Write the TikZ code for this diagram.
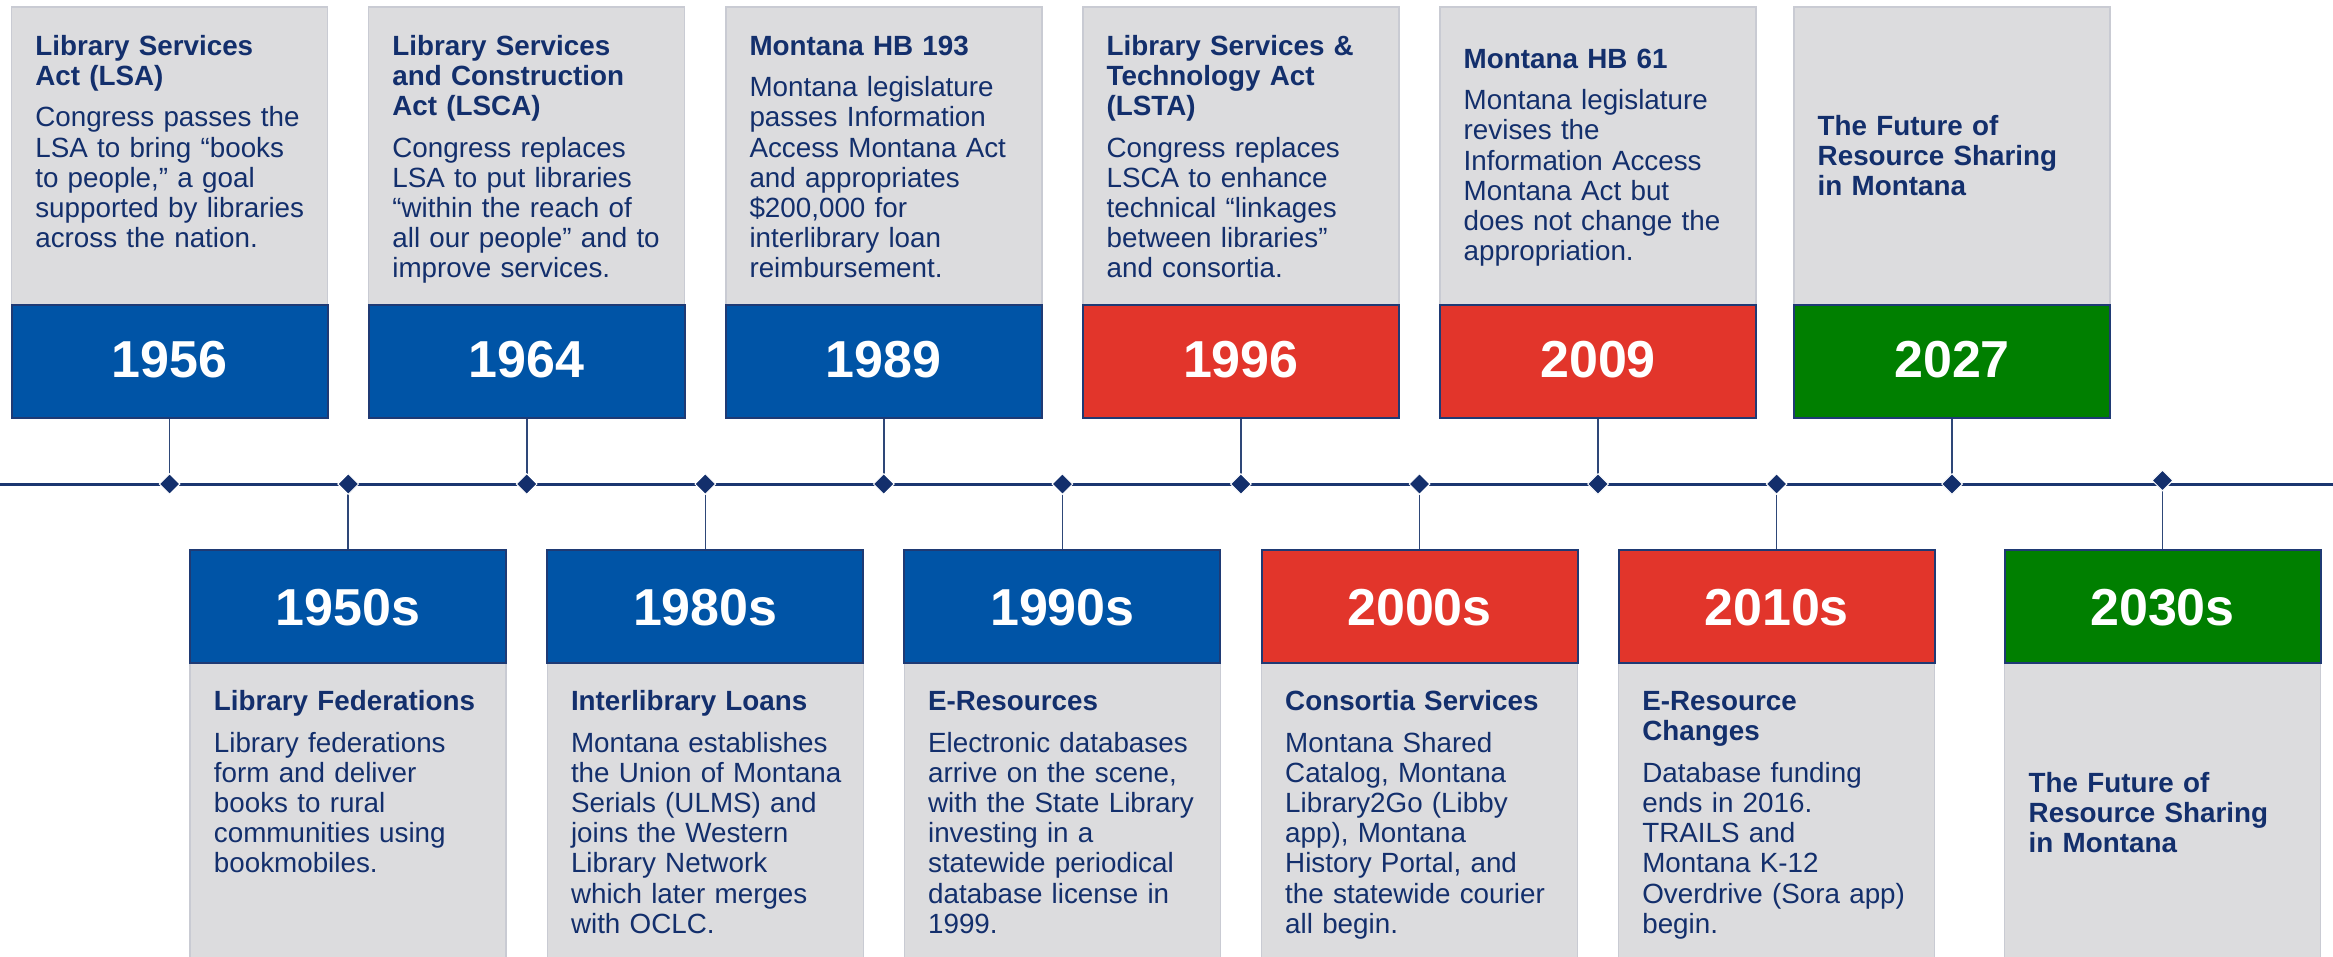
\documentclass[tikz,border=0pt]{standalone}
\usepackage{fontspec}
\setmainfont{Liberation Sans}
\usetikzlibrary{shapes.geometric}
\setlength{\parindent}{0pt}
\definecolor{navy}{HTML}{132F6C}
\definecolor{linenavy}{HTML}{1B3670}
\definecolor{boxgray}{HTML}{DCDCDE}
\definecolor{grayedge}{HTML}{C9CBD3}
\definecolor{yblue}{HTML}{0054A6}
\definecolor{yred}{HTML}{E2352B}
\definecolor{ygreen}{HTML}{007F00}
\definecolor{edgenavy}{HTML}{1F3A74}
\definecolor{connnavy}{HTML}{2E4778}
\newcommand{\tstrut}{\rule{0pt}{22pt}}
\newcommand{\tgap}{\par\vspace{11.2pt}}
\begin{document}
\begin{tikzpicture}[x=1pt,y=-1pt,
  card/.style={rectangle, draw=grayedge, line width=1.5pt, fill=boxgray, minimum width=316pt, inner sep=0pt},
  cardtop/.style={card, minimum height=298pt},
  cardbot/.style={card, minimum height=297pt},
  yearbox/.style={rectangle, draw=edgenavy, line width=2pt, minimum width=316pt, minimum height=113pt, inner sep=0pt, text=white, font=\fontsize{52}{52}\selectfont\bfseries, text height=37.5pt},
  ytop/.style={yearbox, text depth=6.5pt},
  ybot/.style={yearbox, text depth=0.5pt},
  txt/.style={anchor=north west, inner sep=0pt, text width=300pt, align=left, text=navy, font=\fontsize{27.8}{30.2}\selectfont},
  dia/.style={diamond, fill=navy, draw=white, line width=1pt, minimum width=21pt, minimum height=21pt, inner sep=0pt},
  conn/.style={draw=connnavy, line width=1.6pt},
  axis/.style={draw=linenavy, line width=3pt}
]
\useasboundingbox (0,0) rectangle (2333,956);

% ---------- timeline ----------
\coordinate (L) at (0,484);
\coordinate (R) at (2333,484);
\draw[axis] (L) -- (R);

% ---------- top cards ----------
\node[cardtop] (g1956) at (169.6,156) {};
\node[cardtop] (g1964) at (526.7,156) {};
\node[cardtop] (g1989) at (883.8,156) {};
\node[cardtop] (g1996) at (1240.9,156) {};
\node[cardtop] (g2009) at (1598,156) {};
\node[cardtop] (g2027) at (1952,156) {};

\node[ytop, fill=yblue] (y1956) at (169.6,361.5) {1956};
\node[ytop, fill=yblue] (y1964) at (526.7,361.5) {1964};
\node[ytop, fill=yblue] (y1989) at (883.8,361.5) {1989};
\node[ytop, fill=yred] (y1996) at (1240.9,361.5) {1996};
\node[ytop, fill=yred] (y2009) at (1598,361.5) {2009};
\node[ytop, fill=ygreen] (y2027) at (1952,361.5) {2027};

\node[txt] (t1956) at (35.1,33) {{\bfseries\tstrut Library Services\\Act (LSA)}\tgap
Congress passes the\\LSA to bring “books\\to people,” a goal\\supported by libraries\\across the nation.};
\node[txt] (t1964) at (392.2,33) {{\bfseries\tstrut Library Services\\and Construction\\Act (LSCA)}\tgap
Congress replaces\\LSA to put libraries\\“within the reach of\\all our people” and to\\improve services.};
\node[txt] (t1989) at (749.3,33) {{\bfseries\tstrut Montana HB 193}\tgap
Montana legislature\\passes Information\\Access Montana Act\\and appropriates\\\$200,000 for\\interlibrary loan\\reimbursement.};
\node[txt] (t1996) at (1106.4,33) {{\bfseries\tstrut Library Services \&\\Technology Act\\(LSTA)}\tgap
Congress replaces\\LSCA to enhance\\technical “linkages\\between libraries”\\and consortia.};
\node[txt] (t2009) at (1463.5,46) {{\bfseries\tstrut Montana HB 61}\tgap
Montana legislature\\revises the\\Information Access\\Montana Act but\\does not change the\\appropriation.};
\node[txt] (t2027) at (1817.5,113) {{\bfseries\tstrut The Future of\\Resource Sharing\\in Montana}};

% ---------- bottom cards ----------
\node[cardbot] (g1950s) at (348.2,811.5) {};
\node[cardbot] (g1980s) at (705.3,811.5) {};
\node[cardbot] (g1990s) at (1062.4,811.5) {};
\node[cardbot] (g2000s) at (1419.5,811.5) {};
\node[cardbot] (g2010s) at (1776.6,811.5) {};
\node[cardbot] (g2030s) at (2162.5,811.5) {};

\node[ybot, fill=yblue] (y1950s) at (348.2,606.5) {1950s};
\node[ybot, fill=yblue] (y1980s) at (705.3,606.5) {1980s};
\node[ybot, fill=yblue] (y1990s) at (1062.4,606.5) {1990s};
\node[ybot, fill=yred] (y2000s) at (1419.5,606.5) {2000s};
\node[ybot, fill=yred] (y2010s) at (1776.6,606.5) {2010s};
\node[ybot, fill=ygreen] (y2030s) at (2162.5,606.5) {2030s};

\node[txt] (t1950s) at (213.7,688.5) {{\bfseries\tstrut Library Federations}\tgap
Library federations\\form and deliver\\books to rural\\communities using\\bookmobiles.};
\node[txt] (t1980s) at (570.8,688.5) {{\bfseries\tstrut Interlibrary Loans}\tgap
Montana establishes\\the Union of Montana\\Serials (ULMS) and\\joins the Western\\Library Network\\which later merges\\with OCLC.};
\node[txt] (t1990s) at (927.9,688.5) {{\bfseries\tstrut E-Resources}\tgap
Electronic databases\\arrive on the scene,\\with the State Library\\investing in a\\statewide periodical\\database license in\\1999.};
\node[txt] (t2000s) at (1285,688.5) {{\bfseries\tstrut Consortia Services}\tgap
Montana Shared\\Catalog, Montana\\Library2Go (Libby\\app), Montana\\History Portal, and\\the statewide courier\\all begin.};
\node[txt] (t2010s) at (1642.1,688.5) {{\bfseries\tstrut E-Resource\\Changes}\tgap
Database funding\\ends in 2016.\\TRAILS and\\Montana K-12\\Overdrive (Sora app)\\begin.};
\node[txt] (t2030s) at (2028.5,770) {{\bfseries\tstrut The Future of\\Resource Sharing\\in Montana}};

% ---------- connectors ----------
\draw[conn] (y1956.south) -- (169.6,484) coordinate (c1);
\draw[conn] (y1964.south) -- (526.7,484) coordinate (c3);
\draw[conn] (y1989.south) -- (883.8,484) coordinate (c5);
\draw[conn] (y1996.south) -- (1240.9,484) coordinate (c7);
\draw[conn] (y2009.south) -- (1598,484) coordinate (c9);
\draw[conn] (y2027.south) -- (1952,484) coordinate (c11);
\draw[conn] (y1950s.north) -- (348.2,484) coordinate (c2);
\draw[conn] (y1980s.north) -- (705.3,484) coordinate (c4);
\draw[conn] (y1990s.north) -- (1062.4,484) coordinate (c6);
\draw[conn] (y2000s.north) -- (1419.5,484) coordinate (c8);
\draw[conn] (y2010s.north) -- (1776.6,484) coordinate (c10);
\draw[conn] (y2030s.north) -- (2162.5,480.5) coordinate (c12);

% ---------- diamonds ----------
\node[dia] (d1) at (c1) {};
\node[dia] (d2) at (c2) {};
\node[dia] (d3) at (c3) {};
\node[dia] (d4) at (c4) {};
\node[dia] (d5) at (c5) {};
\node[dia] (d6) at (c6) {};
\node[dia] (d7) at (c7) {};
\node[dia] (d8) at (c8) {};
\node[dia] (d9) at (c9) {};
\node[dia] (d10) at (c10) {};
\node[dia] (d11) at (c11) {};
\node[dia] (d12) at (c12) {};
\end{tikzpicture}
\end{document}
